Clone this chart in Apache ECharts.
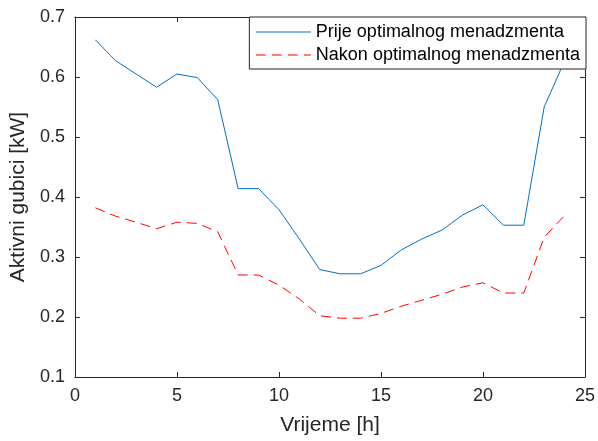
<!DOCTYPE html>
<html>
<head>
<meta charset="utf-8">
<script src="https://cdn.jsdelivr.net/npm/echarts@6/dist/echarts.min.js"></script>
<style>
html, body { margin: 0; padding: 0; background: #fff; }
#chart { width: 598px; height: 441px; }
</style>
</head>
<body>
<div id="chart"></div>
<script>
// sati (h)
var hours = [1, 2, 3, 4, 5, 6, 7, 8, 9, 10, 11, 12, 13, 14, 15, 16, 17, 18, 19, 20, 21, 22, 23, 24];
// Prije optimalnog menadzmenta [kW]
var before = [0.662, 0.627, 0.605, 0.583, 0.605, 0.599, 0.562, 0.414, 0.414, 0.379, 0.330, 0.279,
	0.272, 0.272, 0.286, 0.312, 0.330, 0.345, 0.370, 0.387, 0.353, 0.353, 0.550, 0.627];
// Nakon optimalnog menadzmenta [kW]
var after = [0.382, 0.368, 0.358, 0.347, 0.358, 0.356, 0.342, 0.270, 0.270, 0.253, 0.230, 0.202,
	0.198, 0.198, 0.206, 0.218, 0.228, 0.238, 0.250, 0.257, 0.240, 0.240, 0.333, 0.369];
var names = ['Prije optimalnog menadzmenta', 'Nakon optimalnog menadzmenta'];
var xTicks = [0, 5, 10, 15, 20, 25];
var yTicks = [0.1, 0.2, 0.3, 0.4, 0.5, 0.6, 0.7];

function pairs(ys) {
	return hours.map(function (h, i) { return [h, ys[i]]; });
}

var axisColor = '#262626';
var font = 'Liberation Sans, Arial, sans-serif';

var chart = echarts.init(document.getElementById('chart'));

var xBase = {
	type: 'value',
	min: xTicks[0],
	max: xTicks[xTicks.length - 1],
	interval: 5,
	axisLine: { show: true, onZero: false, lineStyle: { color: axisColor, width: 1 } },
	axisTick: { show: true, inside: true, length: 5, lineStyle: { color: axisColor } },
	splitLine: { show: false }
};
var yBase = {
	type: 'value',
	min: yTicks[0],
	max: yTicks[yTicks.length - 1],
	interval: 0.1,
	axisLine: { show: true, onZero: false, lineStyle: { color: axisColor, width: 1 } },
	axisTick: { show: true, inside: true, length: 5, lineStyle: { color: axisColor } },
	splitLine: { show: false }
};

chart.setOption({
	animation: false,
	textStyle: { fontFamily: font },
	grid: { left: 74, right: 12, top: 17, bottom: 61, containLabel: false },
	legend: {
		orient: 'vertical',
		right: 12,
		top: 17,
		padding: [6, 6, 5, 6],
		itemGap: 5,
		itemWidth: 55,
		itemHeight: 18,
		backgroundColor: '#fff',
		borderColor: '#262626',
		borderWidth: 1,
		borderRadius: 0,
		itemStyle: { color: 'rgba(0,0,0,0)', borderColor: 'rgba(0,0,0,0)', borderWidth: 0, opacity: 0 },
		lineStyle: { width: 1 },
		textStyle: { fontFamily: font, fontSize: 18, color: '#000', padding: [0, 0, 0, 0] },
		data: names
	},
	xAxis: [
		Object.assign({}, xBase, {
			position: 'bottom',
			name: 'Vrijeme [h]',
			nameLocation: 'middle',
			nameGap: 38,
			nameTextStyle: { fontSize: 21, color: axisColor, fontFamily: font },
			axisLabel: { fontSize: 18, color: axisColor, margin: 10, fontFamily: font }
		}),
		Object.assign({}, xBase, { position: 'top', axisLabel: { show: false } })
	],
	yAxis: [
		Object.assign({}, yBase, {
			position: 'left',
			name: 'Aktivni gubici [kW]',
			nameLocation: 'middle',
			nameGap: 44,
			nameTextStyle: { fontSize: 21, color: axisColor, fontFamily: font },
			axisLabel: {
				fontSize: 18, color: axisColor, margin: 10, fontFamily: font,
				formatter: function (v) { return v.toFixed(1); }
			}
		}),
		Object.assign({}, yBase, { position: 'right', axisLabel: { show: false } })
	],
	series: [{
		name: names[0],
		type: 'line',
		xAxisIndex: 0,
		yAxisIndex: 0,
		symbol: 'none',
		color: '#0072BD',
		lineStyle: { color: '#0072BD', width: 1 },
		data: pairs(before),
		z: 2
	}, {
		name: names[1],
		type: 'line',
		xAxisIndex: 0,
		yAxisIndex: 0,
		symbol: 'none',
		color: '#FF0000',
		lineStyle: { color: '#FF0000', width: 1, type: [10, 6] },
		data: pairs(after),
		z: 2
	}]
});
</script>
</body>
</html>
